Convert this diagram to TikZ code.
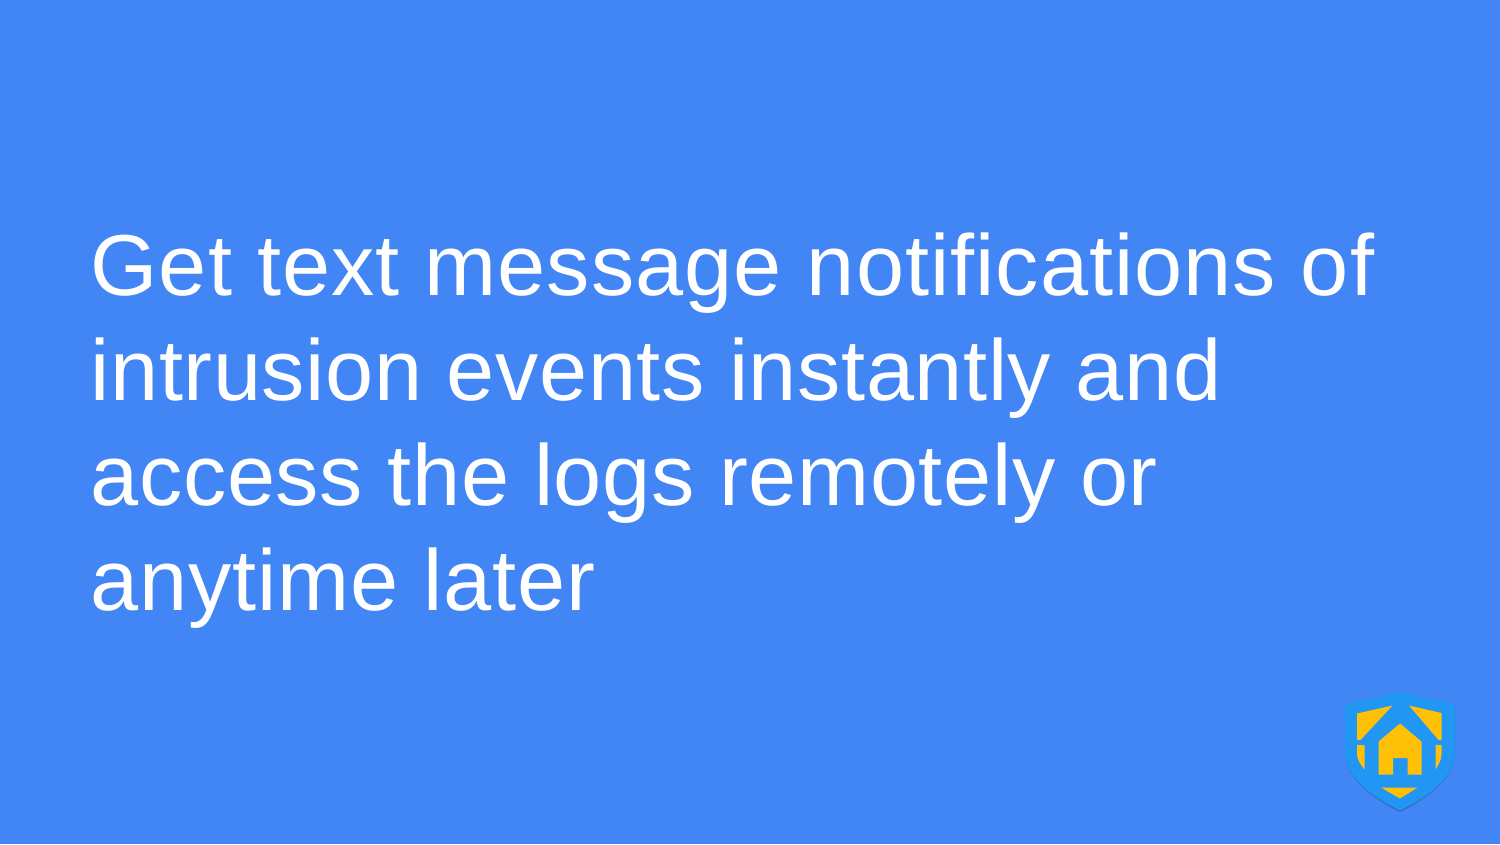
\documentclass[tikz,border=0pt]{standalone}
\usepackage{fontspec}
\setmainfont{Liberation Sans}
\definecolor{slideblue}{HTML}{4285F4}
\definecolor{shieldblue}{HTML}{2196F3}
\definecolor{shieldyellow}{HTML}{FFC107}
\tikzset{
    slideline/.style={anchor=base west, inner sep=0pt, text=white, font=\fontsize{24.6}{29}\selectfont\addfontfeature{LetterSpace=#1}},
    shieldpart/.style={fill=shieldyellow, draw=none}
}
\begin{document}
\begin{tikzpicture}[x=0.01cm,y=-0.01cm]
    \fill[slideblue] (0,0) rectangle (1500,844);
    \useasboundingbox (0,0) rectangle (1500,844);
    % text lines
    \node[slideline=1.18] (lineone) at (90,295) {Get text message notifications of};
    \node[slideline=0.67] (linetwo) at (90,400) {intrusion events instantly and};
    \node[slideline=0.75] (linethree) at (90,505) {access the logs remotely or};
    \node[slideline=0.96] (linefour) at (90,610) {anytime later};
    % shield
    \fill[black!22!slideblue] (1400,693.5) -- (1455,705) -- (1455,752) .. controls (1455,778) and (1428,798) .. (1400,812) .. controls (1372,798) and (1345,778) .. (1345,752) -- (1345,705) -- cycle;
    \fill[shieldblue] (1400,692) -- (1455,704) -- (1455,752) .. controls (1455,777) and (1428,797) .. (1400,810.5) .. controls (1372,797) and (1345,777) .. (1345,752) -- (1345,704) -- cycle;
    \fill[shieldpart] (1357,713.5) -- (1392.5,705.5) -- (1360.5,740) -- (1357,740) -- cycle;
    \fill[shieldpart] (1409,705.5) -- (1441.5,713) -- (1441.5,740) -- (1438.5,740) -- cycle;
    \fill[shieldpart] (1357,745) -- (1364.5,745) -- (1364.5,769.5) .. controls (1360,764) and (1357,759) .. (1357,754) -- cycle;
    \fill[shieldpart] (1435.5,745) -- (1441.5,745) -- (1441.5,754) .. controls (1441.5,759) and (1439,764) .. (1435.5,769.5) -- cycle;
    \fill[shieldpart] (1381,787.5) -- (1417.5,787.5) -- (1400,798.5) -- cycle;
    \fill[shieldpart] (1400,723.5) -- (1421.5,741.5) -- (1421.5,774.5) -- (1407.5,774.5) -- (1407.5,758) -- (1393,758) -- (1393,774.5) -- (1378.5,774.5) -- (1378.5,741.5) -- cycle;
\end{tikzpicture}
\end{document}
